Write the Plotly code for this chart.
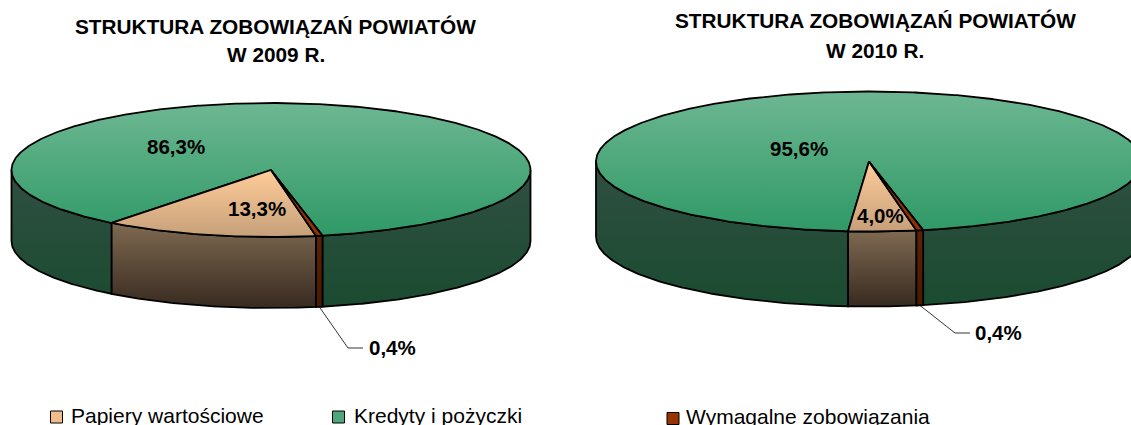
import math
import numpy as np
import plotly.graph_objects as go

# ---- data ----
categories = ["Papiery wartościowe", "Kredyty i pożyczki", "Wymagalne zobowiązania"]
values_2009 = [13.3, 86.3, 0.4]
values_2010 = [4.0, 95.6, 0.4]
title_2009 = ["STRUKTURA ZOBOWIĄZAŃ POWIATÓW", "W 2009 R."]
title_2010 = ["STRUKTURA ZOBOWIĄZAŃ POWIATÓW", "W 2010 R."]

# ---- styles ----
FONT = "Liberation Sans, Arial, sans-serif"
START = 170.0  # first slice angle, clockwise from the back of the pie
top_colors = [("#FFCC99", "#C6A07A"), ("#6DB792", "#2F9966"), ("#A8400A", "#8F3000")]
side_colors = [("#7F6A52", "#382A20"), ("#304F42", "#1A4B30"), ("#5C2206", "#4A1A02")]
legend_colors = ["#F0BC8C", "#4FA57C", "#993300"]

fig = go.Figure()


def grad(c0, c1, y0, y1):
    return dict(type="vertical", colorscale=[[0, c0], [1, c1]], start=y0, stop=y1)


def poly(xs, ys, c0, c1, y0, y1):
    fig.add_trace(go.Scatter(
        x=xs, y=ys, mode="lines", fill="toself", fillgradient=grad(c0, c1, y0, y1),
        line=dict(color="black", width=1.8), hoverinfo="skip", showlegend=False))


def pie(values, cx, cy, rx, ry, depth):
    # slice boundaries in degrees
    edges = [START]
    for v in values:
        edges.append(edges[-1] + v * 3.6)

    def arc(a, b, dy=0.0):
        t = np.radians(np.linspace(a, b, max(int(abs(b - a) * 2), 2)))
        return cx + rx * np.sin(t), cy - ry * np.cos(t) + dy

    # walls: only the part of every slice which faces the viewer
    for i in [1, 0, 2]:
        a, b = edges[i], edges[i + 1]
        for lo, hi in [(90, 270), (450, 630)]:
            s, e = max(a, lo), min(b, hi)
            if e <= s:
                continue
            xt, yt = arc(s, e)
            xb, yb = arc(s, e, depth)
            xs = list(xt) + list(xb[::-1]) + [xt[0]]
            ys = list(yt) + list(yb[::-1]) + [yt[0]]
            c0, c1 = side_colors[i]
            if i == 1:
                y0, y1 = cy, cy + ry + depth
            else:
                y0, y1 = min(yt), max(yb)
            poly(xs, ys, c0, c1, y0, y1)

    # top faces
    for i in [1, 0, 2]:
        xa, ya = arc(edges[i], edges[i + 1])
        xs = [cx] + list(xa) + [cx]
        ys = [cy] + list(ya) + [cy]
        c0, c1 = top_colors[i]
        if i == 1:
            y0, y1 = cy - ry, cy + ry
        else:
            y0, y1 = cy, cy + ry
        poly(xs, ys, c0, c1, y0, y1)

    mid = math.radians((edges[2] + edges[3]) / 2)
    return cx + rx * math.sin(mid), cy - ry * math.cos(mid) + depth


def label(text, x, y, size=20.5, bold=True, anchor="center"):
    t = f"<b>{text}</b>" if bold else text
    fig.add_annotation(x=x, y=y, xref="x", yref="y", text=t, showarrow=False,
                       xanchor=anchor, yanchor="middle",
                       font=dict(family=FONT, size=size, color="black"))


def pct(v):
    return f"{v:.1f}%".replace(".", ",")


def leader(x0, y0, x1, y1, x2):
    fig.add_trace(go.Scatter(x=[x0, x1, x2], y=[y0, y1, y1], mode="lines",
                             line=dict(color="black", width=0.8),
                             hoverinfo="skip", showlegend=False))


# ---- left pie ----
lx, ly = pie(values_2009, 271, 170, 259.5, 67, 71)
leader(lx, ly, 348, 348, 363)
label(pct(values_2009[1]), 176, 146)
label(pct(values_2009[0]), 257, 208)
label(pct(values_2009[2]), 392, 347)
label(title_2009[0], 275, 26, size=20.8)
label(title_2009[1], 276, 54, size=20.8)

# ---- right pie ----
lx, ly = pie(values_2010, 869, 161.5, 273, 70, 75)
leader(lx, ly, 955, 333, 970)
label(pct(values_2010[1]), 799, 148)
label(pct(values_2010[0]), 880, 215)
label(pct(values_2010[2]), 998, 332)
label(title_2010[0], 875, 20, size=20.8)
label(title_2010[1], 875, 50, size=20.8)

# ---- legend ----
fig.add_trace(go.Scatter(
    x=[56.5, 338.5, 673], y=[417, 417, 418.5], mode="markers",
    marker=dict(symbol="square", size=12, color=legend_colors,
                line=dict(color="black", width=1)),
    hoverinfo="skip", showlegend=False))
label(categories[0], 69, 415, size=21, bold=False, anchor="left")
label(categories[1], 352, 415, size=21, bold=False, anchor="left")
label(categories[2], 684, 416, size=21, bold=False, anchor="left")

fig.update_layout(
    width=1131, height=425, margin=dict(l=0, r=0, t=0, b=0),
    paper_bgcolor="white", plot_bgcolor="white", showlegend=False,
    xaxis=dict(range=[0, 1131], visible=False, fixedrange=True),
    yaxis=dict(range=[425, 0], visible=False, fixedrange=True),
)
fig.write_html("out.html", post_script="document.body.style.margin='0';",
               config={"displayModeBar": False})
